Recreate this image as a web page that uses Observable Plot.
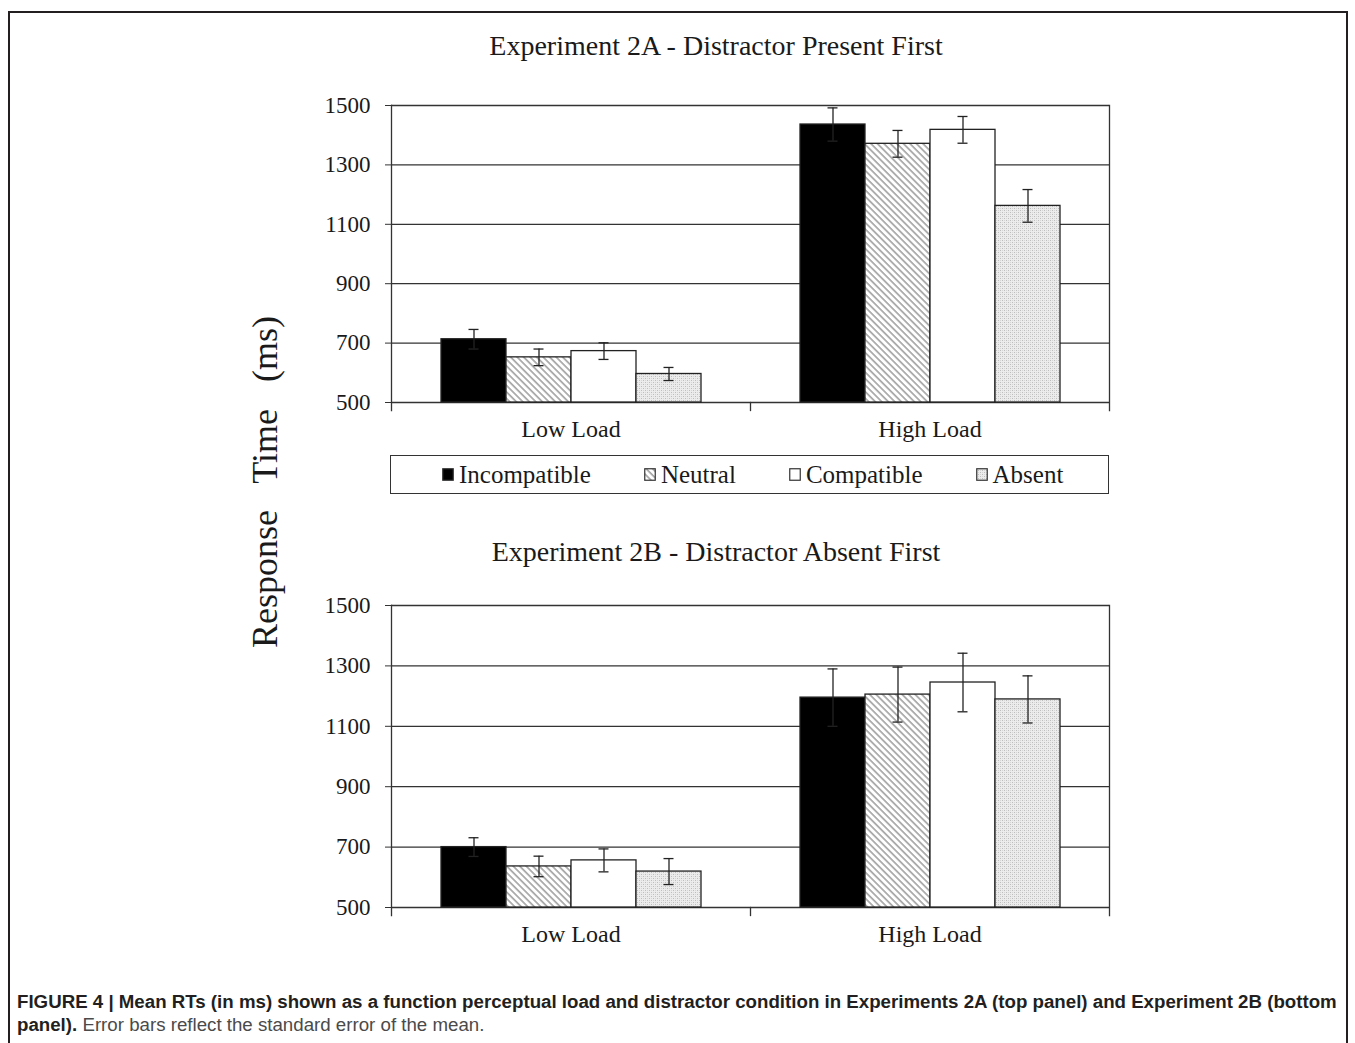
<!DOCTYPE html>
<html>
<head>
<meta charset="utf-8">
<script src="https://cdn.jsdelivr.net/npm/d3@7"></script>
<script src="https://cdn.jsdelivr.net/npm/@observablehq/plot@0.6"></script>
<style>
  html, body { margin: 0; padding: 0; background: #fff; }
  #fig { position: relative; width: 1355px; height: 1043px; overflow: hidden; background: #fff;
         font-family: "Liberation Serif", "Times New Roman", serif; color: #1a1a1a; }
  .border { position: absolute; left: 8px; top: 11px; width: 1340px; height: 1100px;
            border: 2px solid #231f20; box-sizing: border-box; }
  .title { position: absolute; left: 316px; width: 800px; text-align: center; font-size: 28px;
           line-height: 28px; white-space: nowrap; }
  .ylabel { position: absolute; left: 265px; top: 482px; font-size: 36px; line-height: 36px;
            white-space: pre; transform: translate(-50%, -50%) rotate(-90deg); }
  .plot { position: absolute; left: 0; }
  .legend { position: absolute; left: 390px; top: 455px; width: 719px; height: 39px;
            border: 1.5px solid #333; box-sizing: border-box; display: flex; align-items: center;
            justify-content: flex-start; gap: 53px; font-size: 25px; padding-left: 51px; }
  .legend .item { display: flex; align-items: center; gap: 5px; white-space: nowrap; }
  .legend svg { display: block; }
  .caption { position: absolute; left: 17px; top: 990px; width: 1330px; font-family: "Liberation Sans", Arial, sans-serif;
             font-size: 18.7px; line-height: 23px; color: #4a4a4a; white-space: nowrap; }
  .caption b { color: #231f20; }
</style>
</head>
<body>
<svg width="0" height="0" style="position:absolute">
  <defs>
    <pattern id="hatchNeutral" patternUnits="userSpaceOnUse" width="4.6" height="4.6" patternTransform="rotate(-45)">
      <rect width="4.6" height="4.6" fill="#fff"></rect>
      <line x1="1" y1="0" x2="1" y2="4.6" stroke="#9a9a9a" stroke-width="1.5"></line>
    </pattern>
    <pattern id="dotAbsent" patternUnits="userSpaceOnUse" width="4" height="4">
      <rect width="4" height="4" fill="#ececec"></rect>
      <rect x="0" y="0" width="1" height="1" fill="#bdbdbd"></rect>
      <rect x="2" y="2" width="1" height="1" fill="#bdbdbd"></rect>
      <rect x="2" y="0" width="1" height="1" fill="#d6d6d6"></rect>
      <rect x="0" y="2" width="1" height="1" fill="#d6d6d6"></rect>
    </pattern>
  </defs>
</svg>
<div id="fig">
  <div class="border"></div>
  <div class="title" style="top:32px">Experiment 2A - Distractor Present First</div>
  <div class="title" style="top:538px">Experiment 2B - Distractor Absent First</div>
  <div class="ylabel">Response   Time   (ms)</div>
  <div class="plot" id="top" style="top:70px"></div>
  <div class="legend" id="legend"></div>
  <div class="plot" id="bottom" style="top:570px"></div>
  <div class="caption"><b>FIGURE 4 | Mean RTs (in ms) shown as a function perceptual load and distractor condition in Experiments 2A (top panel) and Experiment 2B (bottom<br>panel).</b> Error bars reflect the standard error of the mean.</div>
</div>
<script>
// ---- data ----
const groups = ["Low Load", "High Load"];
const conditions = ["Incompatible", "Neutral", "Compatible", "Absent"];
const yTicks = [500, 700, 900, 1100, 1300, 1500];

// Experiment 2A - Distractor Present First
const exp2A_low = [713, 652, 673, 596];
const exp2A_lowSE = [33, 28, 28, 22];
const exp2A_high = [1436, 1371, 1418, 1162];
const exp2A_highSE = [56, 45, 45, 55];

// Experiment 2B - Distractor Absent First
const exp2B_low = [700, 636, 656, 619];
const exp2B_lowSE = [31, 34, 38, 43];
const exp2B_high = [1195, 1205, 1245, 1189];
const exp2B_highSE = [95, 91, 97, 78];

const fills = ["#000000", "url(#hatchNeutral)", "#ffffff", "url(#dotAbsent)"];
const fillOf = Object.fromEntries(conditions.map((c, i) => [c, fills[i]]));

function panel(low, lowSE, high, highSE, plotH) {
  const rows = [];
  groups.forEach((g, gi) => conditions.forEach((c, ci) => {
    rows.push({group: g, cond: c, mean: (gi ? high : low)[ci], se: (gi ? highSE : lowSE)[ci]});
  }));
  const mt = 35, mb = 58;
  return Plot.plot({
    width: 1355,
    height: mt + plotH + mb,
    marginLeft: 390, marginRight: 246, marginTop: mt, marginBottom: mb,
    style: {fontFamily: "'Liberation Serif', 'Times New Roman', serif", fontSize: "23px",
            color: "#1a1a1a", background: "transparent", overflow: "visible"},
    fx: {domain: groups, padding: 0, label: null},
    x: {domain: conditions, paddingInner: 0, paddingOuter: 0.75, axis: null},
    y: {domain: [yTicks[0], yTicks[yTicks.length - 1]], label: null},
    color: {type: "identity"},
    marks: [
      Plot.ruleY(yTicks, {stroke: "#333", strokeWidth: 1.3}),
      Plot.barY(rows, {fx: "group", x: "cond", y1: yTicks[0], y2: "mean",
                       fill: d => fillOf[d.cond], stroke: "#222", strokeWidth: 1.3}),
      Plot.ruleX(rows, {fx: "group", x: "cond", y1: d => d.mean - d.se, y2: d => d.mean + d.se,
                        stroke: "#222", strokeWidth: 1.3}),
      Plot.tickY(rows, {fx: "group", x: "cond", y: d => d.mean + d.se, stroke: "#222",
                        strokeWidth: 1.3, insetLeft: 27.5, insetRight: 27.5}),
      Plot.tickY(rows, {fx: "group", x: "cond", y: d => d.mean - d.se, stroke: "#222",
                        strokeWidth: 1.3, insetLeft: 27.5, insetRight: 27.5}),
      Plot.axisY({ticks: yTicks, tickSize: 6, tickPadding: 15, fontSize: 23, label: null,
                  tickFormat: d => String(d), stroke: "#333"}),
      Plot.axisFx({anchor: "bottom", tickSize: 0, tickPadding: 17, fontSize: 24, label: null}),
      Plot.frame({anchor: "left", fx: ["Low Load"], insetBottom: -8, stroke: "#333", strokeWidth: 1.3}),
      Plot.frame({anchor: "right", fx: ["High Load"], insetBottom: -8, stroke: "#333", strokeWidth: 1.3}),
      Plot.frame({anchor: "left", fx: ["High Load"], insetTop: plotH, insetBottom: -8, stroke: "#333", strokeWidth: 1.3})
    ]
  });
}

document.getElementById("top").append(panel(exp2A_low, exp2A_lowSE, exp2A_high, exp2A_highSE, 297));
document.getElementById("bottom").append(panel(exp2B_low, exp2B_lowSE, exp2B_high, exp2B_highSE, 302));

// legend
const legend = document.getElementById("legend");
conditions.forEach((c, i) => {
  const item = document.createElement("div");
  item.className = "item";
  const sw = d3.create("svg").attr("width", 12).attr("height", 13);
  sw.append("rect").attr("x", 0.75).attr("y", 0.75).attr("width", 10.5).attr("height", 11.5)
    .attr("fill", fills[i]).attr("stroke", "#333").attr("stroke-width", 1.2);
  item.append(sw.node());
  const t = document.createElement("span");
  t.textContent = c;
  item.append(t);
  legend.append(item);
});
</script>
</body>
</html>
